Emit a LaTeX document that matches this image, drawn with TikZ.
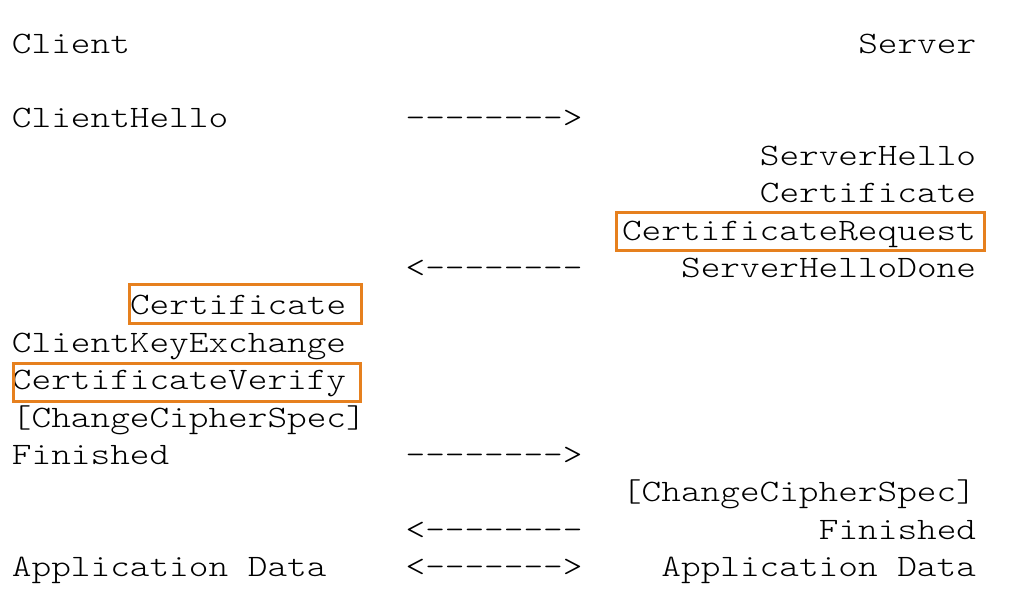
\documentclass[tikz,border=0pt]{standalone}
\usepackage{fontspec}
% light serif typewriter face, widened to a 0.6em cell
\setmonofont[FakeStretch=1.2]{Latin Modern Mono Light}
\definecolor{hlorange}{RGB}{230,128,30}
\begin{document}
\begin{tikzpicture}[x=1pt,y=-1pt,
  msg/.style={anchor=base west,inner sep=0pt,outer sep=0pt,
    font=\ttfamily\fontsize{31.2}{37.4}\selectfont,text=black},
  hl/.style={draw=hlorange,line width=3pt}]
\pgfmathsetmacro{\colw}{19.68}% width of one character cell
\pgfmathsetmacro{\lnh}{37.4}%   line pitch
\pgfmathsetmacro{\xo}{12}%      left margin
\pgfmathsetmacro{\bo}{53}%      baseline of the first line
\useasboundingbox (0,0) rectangle (1024,608);
% headers
\node[msg] (client) at ({\xo},{\bo}) {Client};
\node[msg] (server) at ({\xo+43*\colw},{\bo}) {Server};
% first flight
\node[msg] (chello) at ({\xo},{\bo+2*\lnh}) {ClientHello};
\node[msg] (a1) at ({\xo+20*\colw},{\bo+2*\lnh}) {-------->};
\node[msg] (shello) at ({\xo+38*\colw},{\bo+3*\lnh}) {ServerHello};
\node[msg] (scert) at ({\xo+38*\colw},{\bo+4*\lnh}) {Certificate};
\node[msg] (creq) at ({\xo+31*\colw},{\bo+5*\lnh}) {CertificateRequest};
\node[msg] (a2) at ({\xo+20*\colw},{\bo+6*\lnh}) {<--------};
\node[msg] (shdone) at ({\xo+34*\colw},{\bo+6*\lnh}) {ServerHelloDone};
% client response
\node[msg] (ccert) at ({\xo+6*\colw},{\bo+7*\lnh}) {Certificate};
\node[msg] (ckex) at ({\xo},{\bo+8*\lnh}) {ClientKeyExchange};
\node[msg] (cverify) at ({\xo},{\bo+9*\lnh}) {CertificateVerify};
\node[msg] (cccs) at ({\xo},{\bo+10*\lnh}) {[ChangeCipherSpec]};
\node[msg] (cfin) at ({\xo},{\bo+11*\lnh}) {Finished};
\node[msg] (a3) at ({\xo+20*\colw},{\bo+11*\lnh}) {-------->};
% server finish
\node[msg] (sccs) at ({\xo+31*\colw},{\bo+12*\lnh}) {[ChangeCipherSpec]};
\node[msg] (a4) at ({\xo+20*\colw},{\bo+13*\lnh}) {<--------};
\node[msg] (sfin) at ({\xo+41*\colw},{\bo+13*\lnh}) {Finished};
% application data
\node[msg] (cdata) at ({\xo},{\bo+14*\lnh}) {Application Data};
\node[msg] (a5) at ({\xo+20*\colw},{\bo+14*\lnh}) {<------->};
\node[msg] (sdata) at ({\xo+33*\colw},{\bo+14*\lnh}) {Application Data};
% highlighted messages
\draw[hl] (616,212) rectangle (984,250);
\draw[hl] (129,284) rectangle (361,323);
\draw[hl] (13,363) rectangle (360,401);
\end{tikzpicture}
\end{document}
